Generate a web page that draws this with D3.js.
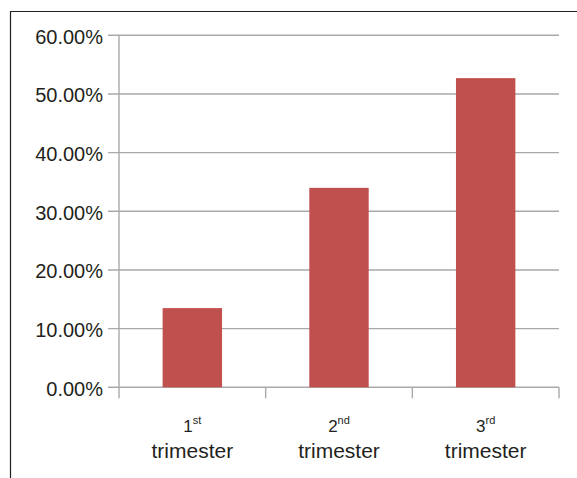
<!DOCTYPE html>
<html>
<head>
<meta charset="utf-8">
<script src="https://cdn.jsdelivr.net/npm/d3@7"></script>
<style>
  html, body { margin: 0; padding: 0; background: #fff; }
  svg { display: block; }
  text { font-family: "Liberation Sans", Arial, sans-serif; fill: #231f20; }
</style>
</head>
<body>
<svg id="chart" width="577" height="478"></svg>
<script>
// Share of cases by trimester
const ordinals = ["1", "2", "3"];
const suffixes = ["st", "nd", "rd"];
const categoryWord = "trimester";
const values = [0.135, 0.34, 0.527];
const yTicks = [0, 0.1, 0.2, 0.3, 0.4, 0.5, 0.6];

const svg = d3.select("#chart");
const W = 577, H = 478;

// frame on the left and top
svg.append("path")
  .attr("d", `M10.5,${H} V11.5 H${W}`)
  .attr("fill", "none")
  .attr("stroke", "#231f20")
  .attr("stroke-width", 1.2);

const plot = { left: 119, right: 559, top: 35.3, bottom: 387.3 };

const x = d3.scaleBand()
  .domain(d3.range(values.length))
  .range([plot.left, plot.right])
  .padding(0);

const y = d3.scaleLinear()
  .domain([0, 0.6])
  .range([plot.bottom, plot.top]);

const gridColor = "#a9a9a9";

// horizontal gridlines with left ticks
svg.append("g")
  .selectAll("line")
  .data(yTicks)
  .join("line")
  .attr("x1", plot.left - 11)
  .attr("x2", plot.right)
  .attr("y1", d => y(d))
  .attr("y2", d => y(d))
  .attr("stroke", gridColor)
  .attr("stroke-width", 1.4);

// y axis line
svg.append("line")
  .attr("x1", plot.left).attr("x2", plot.left)
  .attr("y1", plot.top).attr("y2", plot.bottom)
  .attr("stroke", gridColor)
  .attr("stroke-width", 1.4);

// y tick labels
svg.append("g")
  .selectAll("text")
  .data(yTicks)
  .join("text")
  .attr("x", plot.left - 16)
  .attr("y", d => y(d) + 8.5)
  .attr("text-anchor", "end")
  .style("font-size", "20px")
  .text(d => d3.format(".2%")(d));

// category boundary ticks below the baseline
const boundaries = d3.range(values.length + 1).map(i =>
  i < values.length ? x(i) : x(values.length - 1) + x.bandwidth());
svg.append("g")
  .selectAll("line")
  .data(boundaries)
  .join("line")
  .attr("x1", d => d).attr("x2", d => d)
  .attr("y1", plot.bottom).attr("y2", plot.bottom + 11)
  .attr("stroke", gridColor)
  .attr("stroke-width", 1.4);

// bars
const barW = x.bandwidth() * 0.405;
svg.append("g")
  .selectAll("rect")
  .data(values)
  .join("rect")
  .attr("x", (d, i) => x(i) + (x.bandwidth() - barW) / 2)
  .attr("y", d => y(d))
  .attr("width", barW)
  .attr("height", d => y(0) - y(d))
  .attr("fill", "#c0504d");

// category labels: ordinal with superscript suffix, then the word
const labels = svg.append("g")
  .selectAll("g")
  .data(ordinals)
  .join("g")
  .attr("transform", (d, i) => `translate(${x(i) + x.bandwidth() / 2},0)`);

labels.append("text")
  .attr("y", 432)
  .attr("text-anchor", "middle")
  .style("font-size", "17px")
  .each(function(d, i) {
    const t = d3.select(this);
    t.append("tspan").text(d);
    t.append("tspan")
      .attr("dy", -8)
      .style("font-size", "11px")
      .text(suffixes[i]);
  });

labels.append("text")
  .attr("y", 458)
  .attr("text-anchor", "middle")
  .style("font-size", "21px")
  .text(categoryWord);
</script>
</body>
</html>
